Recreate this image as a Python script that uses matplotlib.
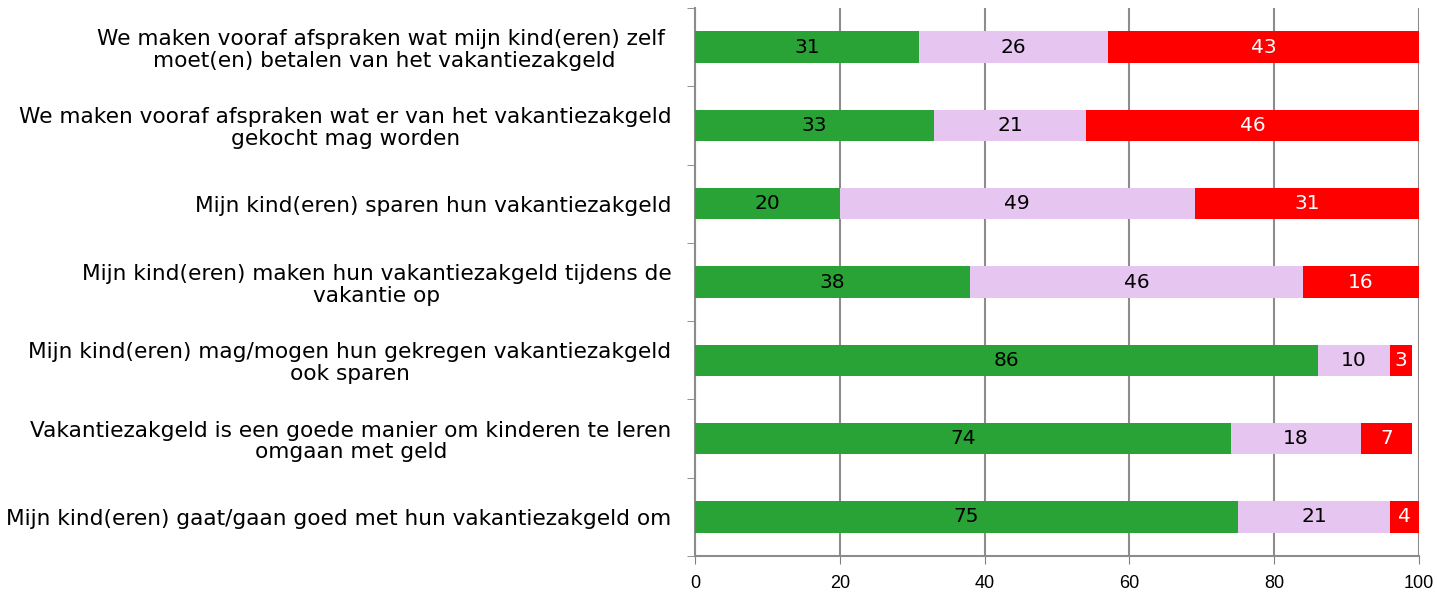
import matplotlib
matplotlib.use('Agg')
import matplotlib.pyplot as plt
import numpy as np

labels = [
    'We maken vooraf afspraken wat mijn kind(eren) zelf \nmoet(en) betalen van het vakantiezakgeld',
    'We maken vooraf afspraken wat er van het vakantiezakgeld\ngekocht mag worden',
    'Mijn kind(eren) sparen hun vakantiezakgeld',
    'Mijn kind(eren) maken hun vakantiezakgeld tijdens de\nvakantie op',
    'Mijn kind(eren) mag/mogen hun gekregen vakantiezakgeld\nook sparen',
    'Vakantiezakgeld is een goede manier om kinderen te leren\nomgaan met geld',
    'Mijn kind(eren) gaat/gaan goed met hun vakantiezakgeld om',
]
eens = [31, 33, 20, 38, 86, 74, 75]
neutraal = [26, 21, 49, 46, 10, 18, 21]
oneens = [43, 46, 31, 16, 3, 7, 4]

colors = ['#2aa336', '#e6c5f0', '#ff0000']
txtcol = ['black', 'black', 'white']

fig = plt.figure(figsize=(14.37, 5.92), dpi=100)
ax = fig.add_axes([695/1437, 1-556/592, (1419-695)/1437, (556-8)/592])

y = np.arange(len(labels))[::-1]
left = np.zeros(len(labels))
for vals, c, tc in zip([eens, neutraal, oneens], colors, txtcol):
    vals = np.array(vals)
    ax.barh(y, vals, left=left, height=0.4, color=c, zorder=3)
    for yi, l, v in zip(y, left, vals):
        ax.text(l + v/2, yi, str(v), ha='center', va='center', color=tc,
                fontsize=14.5, family='DejaVu Sans', zorder=4)
    left = left + vals

ax.set_xlim(0, 100)
ax.set_ylim(-0.5, len(labels)-0.5)
ax.set_xticks([0, 20, 40, 60, 80, 100])
ax.set_xticklabels(['0', '20', '40', '60', '80', '100'], fontsize=13, family='Liberation Sans')
ax.set_yticks(y)
ax.set_yticklabels(labels, fontsize=15.6, family='DejaVu Sans', ha='right',
                   multialignment='center', linespacing=1.12)
ax.tick_params(axis='y', length=0, pad=17)
ax.set_yticks(np.arange(-0.5, len(labels)), minor=True)
ax.tick_params(axis='y', which='minor', length=6, color='#808080')
ax.tick_params(axis='x', length=6, color='#808080', pad=8)
ax.grid(axis='x', color='#8c8c8c', linewidth=1.5, zorder=0)
for s in ['top', 'right']:
    ax.spines[s].set_visible(False)
for s in ['left', 'bottom']:
    ax.spines[s].set_color('#8c8c8c')
    ax.spines[s].set_linewidth(1.5)

plt.savefig('out.png', dpi=100)
